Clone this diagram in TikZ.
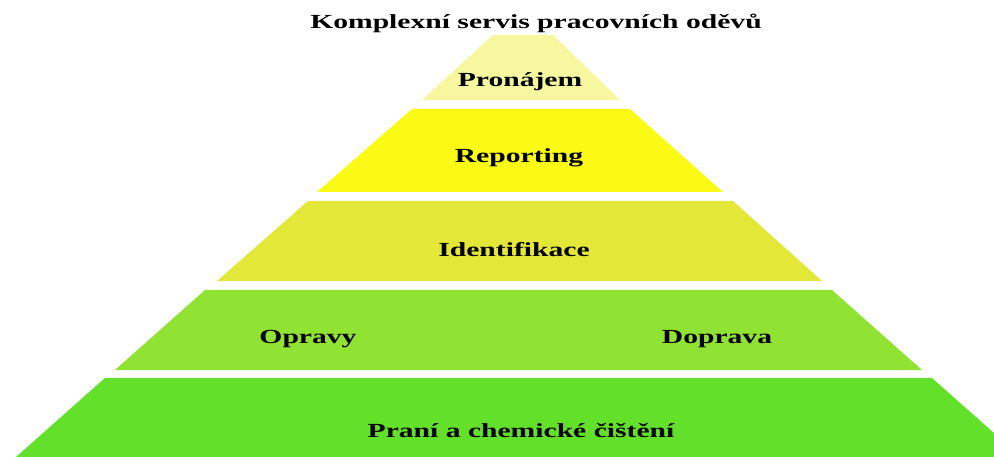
\documentclass[tikz,border=0pt]{standalone}
\usepackage{fontspec}
\setmainfont{Liberation Serif}
\usepackage{graphicx}
\definecolor{lone}{HTML}{F7F7A0}
\definecolor{ltwo}{HTML}{FAFA14}
\definecolor{lthree}{HTML}{E3E838}
\definecolor{lfour}{HTML}{90E332}
\definecolor{lfive}{HTML}{62E02A}
\newcommand{\wide}[1]{\scalebox{1.48}[1]{#1}}
\tikzset{
  lbl/.style={anchor=base, inner sep=0pt, font=\fontsize{20}{20}\selectfont\bfseries},
  layer/.style={draw=none}
}
\begin{document}
\begin{tikzpicture}[x=1pt,y=-1pt]
\clip (0,0) rectangle (994,457);
\fill[white] (0,0) rectangle (994,457);
% layers
\fill[layer,lone]   (493,35) -- (553,35) -- (620,100) -- (422,100) -- cycle;
\fill[layer,ltwo]   (412,109) -- (630,109) -- (723,192) -- (317,192) -- cycle;
\fill[layer,lthree] (308,201) -- (733,201) -- (822,281) -- (217,281) -- cycle;
\fill[layer,lfour]  (205,290) -- (832,290) -- (922,370) -- (115,370) -- cycle;
\fill[layer,lfive]  (105,378) -- (932,378) -- (1021,457) -- (16,457) -- cycle;
% texts
\node[lbl] (title) at (536,29) {\wide{Komplexní servis pracovních oděvů}};
\node[lbl] (pronajem) at (520,87) {\wide{Pronájem}};
\node[lbl] (reporting) at (519,163) {\wide{Reporting}};
\node[lbl] (ident) at (514,257) {\wide{Identifikace}};
\node[lbl] (opravy) at (308,343) {\wide{Opravy}};
\node[lbl] (doprava) at (717,343) {\wide{Doprava}};
\node[lbl] (prani) at (521,437) {\wide{Praní a chemické čištění}};
\end{tikzpicture}
\end{document}
